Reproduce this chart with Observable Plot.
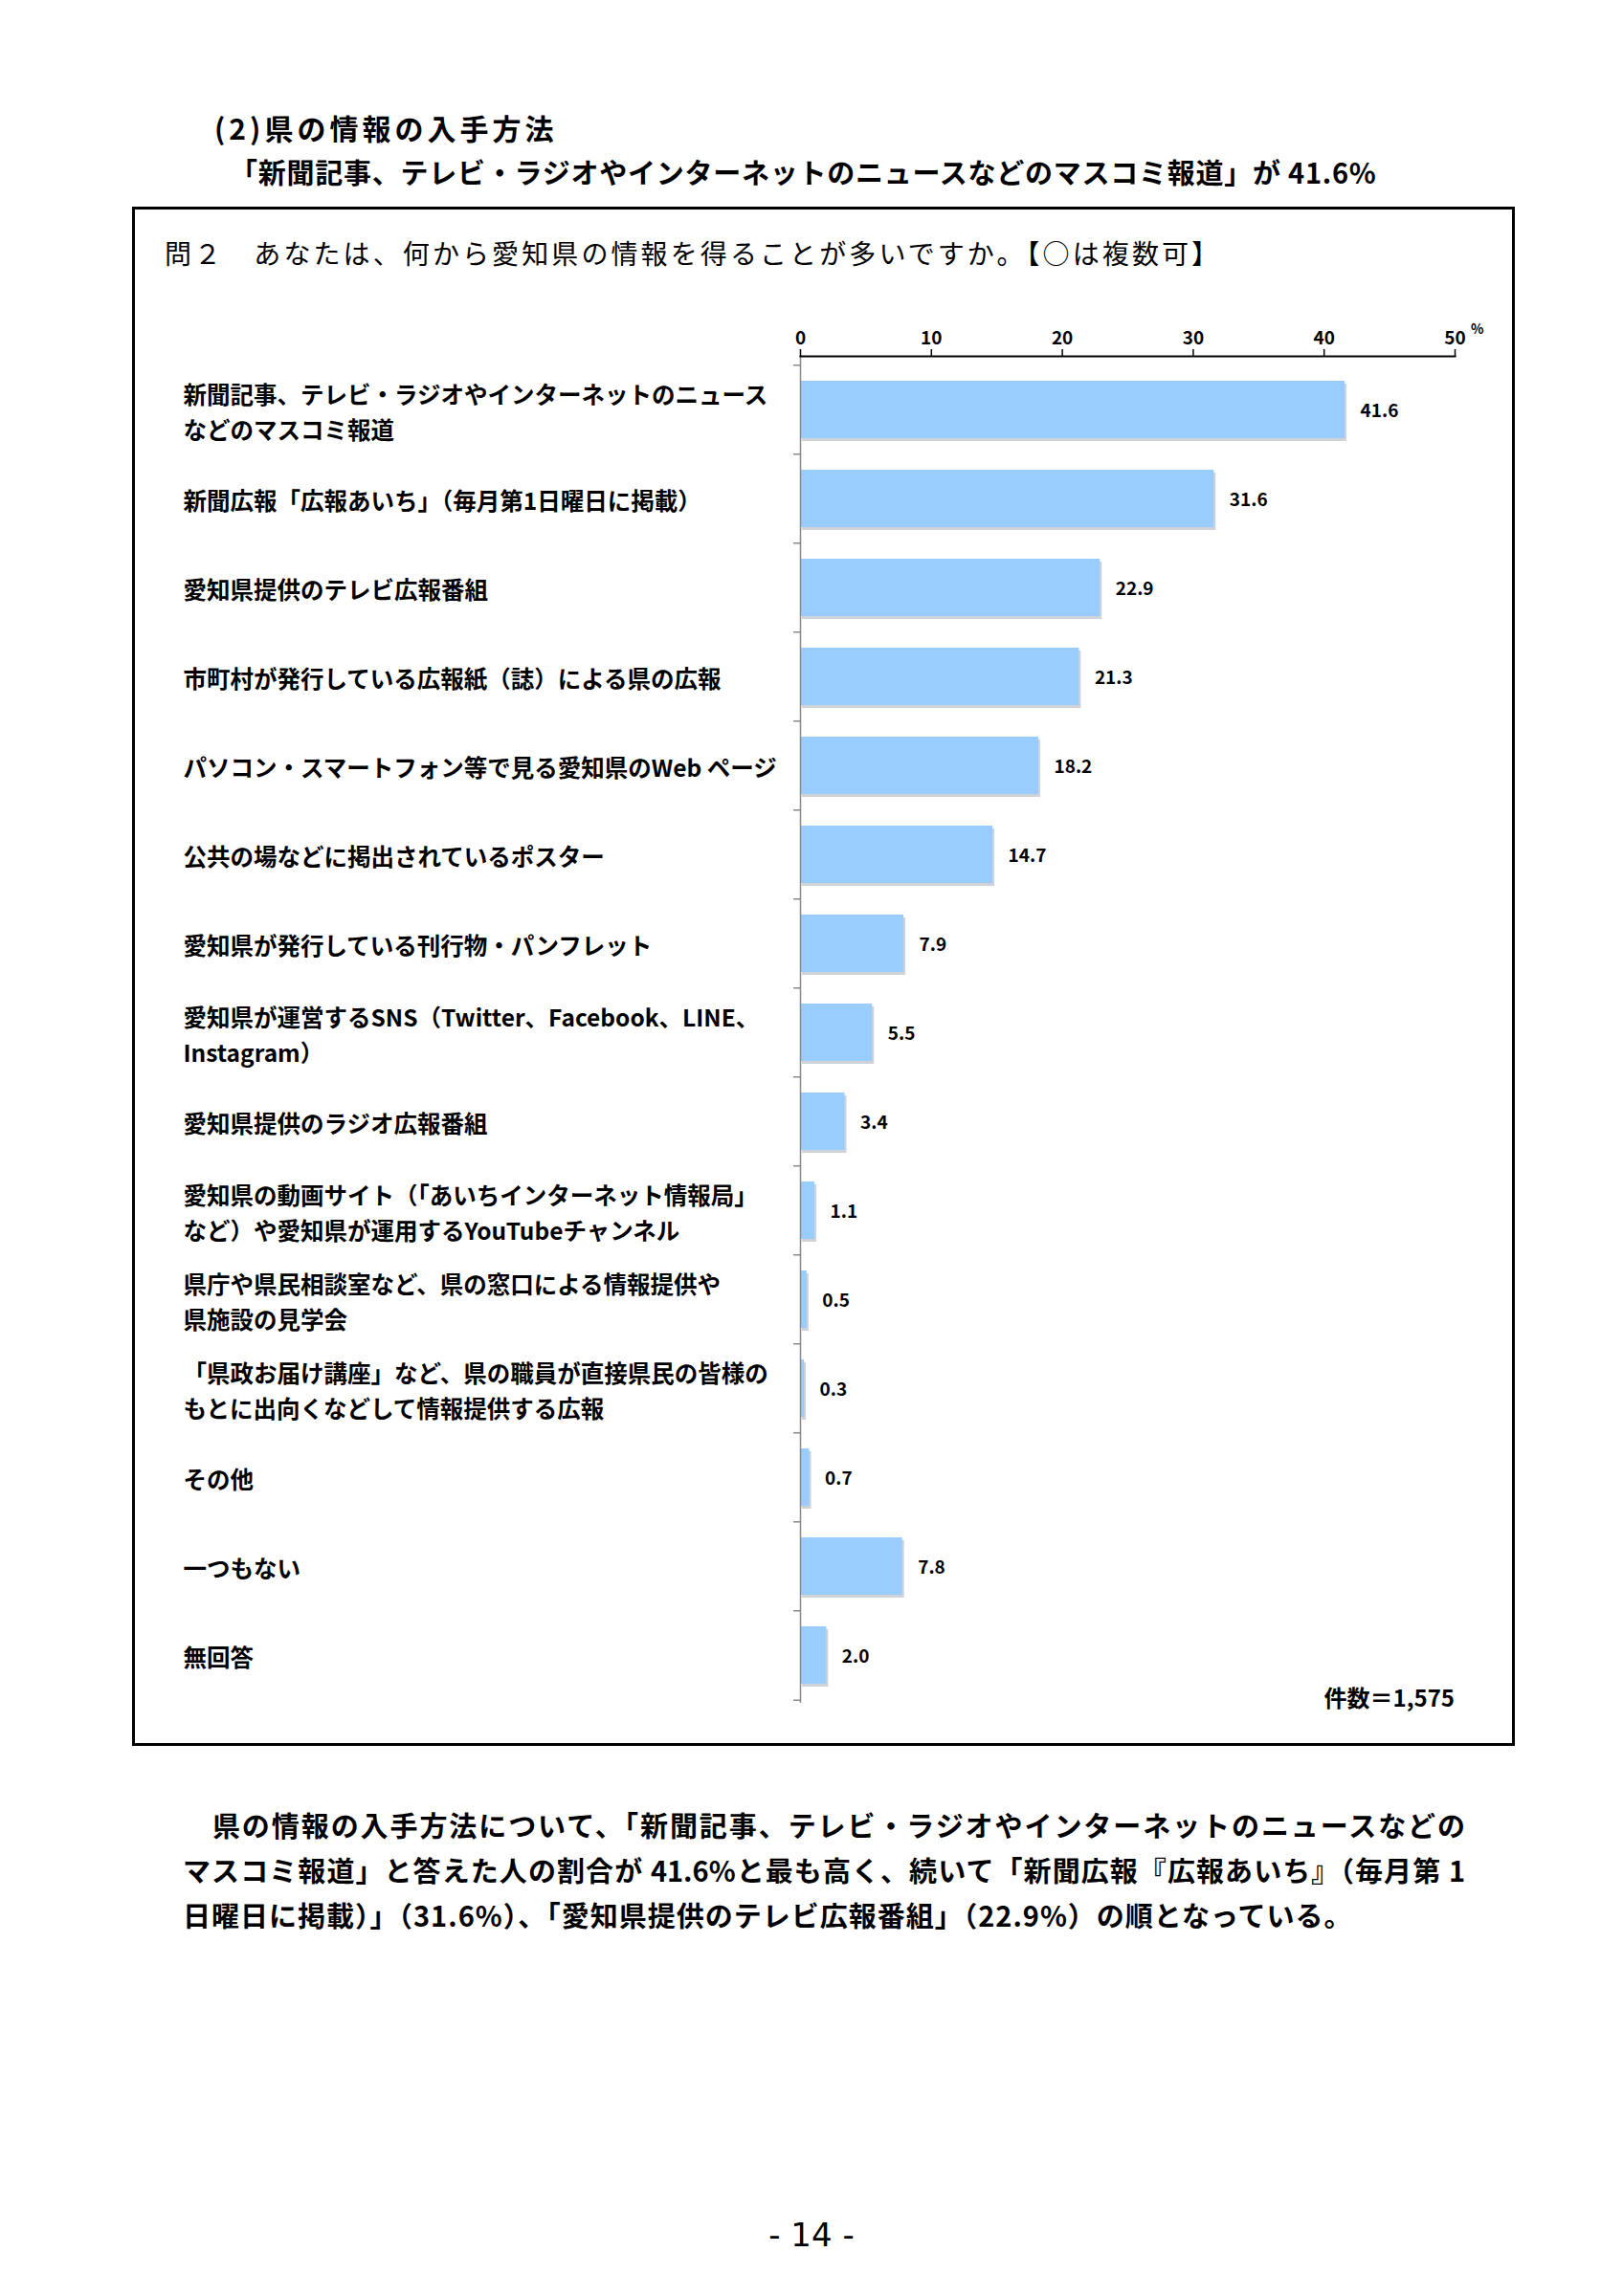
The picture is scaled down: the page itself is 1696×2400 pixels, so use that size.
<!DOCTYPE html>
<html lang="ja">
<head>
<meta charset="utf-8">
<script src="https://cdn.jsdelivr.net/npm/d3@7"></script>
<script src="https://cdn.jsdelivr.net/npm/@observablehq/plot@0.6"></script>
<style>
  html, body { margin: 0; padding: 0; background: #fff; }
  #page { position: relative; width: 1696px; height: 2400px; background: #fff; overflow: hidden;
          font-family: "Noto Sans CJK JP", "Noto Sans", sans-serif; color: #000; }
  .abs { position: absolute; white-space: nowrap; }
  #h1 { left: 224px; top: 111px; font-size: 30px; font-weight: 700; letter-spacing: 4px; }
  #h2 { left: 240px; top: 158px; font-size: 29px; font-weight: 700; letter-spacing: 0.75px; }
  #box { position: absolute; left: 138px; top: 216px; width: 1445px; height: 1609px; border: 3px solid #000; box-sizing: border-box; }
  #q { left: 172px; top: 244px; font-size: 28px; font-weight: 400; letter-spacing: 3.1px; }
  #chart { position: absolute; left: 138px; top: 300px; }
  #n { right: 176px; top: 1756px; font-size: 24px; font-weight: 700; }
  .para { position: absolute; left: 191px; width: 1340px; font-size: 29px; font-weight: 700; white-space: nowrap; }
  .just { text-align: justify; text-align-last: justify; }
  #p3 { letter-spacing: 1px; }
  #pg { left: 0; width: 1696px; text-align: center; top: 2316px; font-size: 34px; font-family: "DejaVu Sans", sans-serif; }
</style>
</head>
<body>
<div id="page">
  <div class="abs" id="h1"></div>
  <div class="abs" id="h2"></div>
  <div id="box"></div>
  <div class="abs" id="q"></div>
  <div id="chart"></div>
  <div class="abs" id="n"></div>
  <div class="para just" id="p1" style="top:1886px"></div>
  <div class="para just" id="p2" style="top:1933px"></div>
  <div class="para" id="p3" style="top:1980px"></div>
  <div class="abs" id="pg">- 14 -</div>
</div>
<script>
// ---- text ----
const heading1 = "(2)県の情報の入手方法";
const heading2 = "「新聞記事、テレビ・ラジオやインターネットのニュースなどのマスコミ報道」が 41.6%";
const question = "問２　あなたは、何から愛知県の情報を得ることが多いですか。【○は複数可】";
const caption = "件数＝1,575";
const unitLabel = "%";
const paragraphLines = [
  "　県の情報の入手方法について、「新聞記事、テレビ・ラジオやインターネットのニュースなどの",
  "マスコミ報道」と答えた人の割合が 41.6%と最も高く、続いて「新聞広報『広報あいち』（毎月第 1",
  "日曜日に掲載）」（31.6%）、「愛知県提供のテレビ広報番組」（22.9%）の順となっている。"
];

// ---- data ----
const categories = [
  "新聞記事、テレビ・ラジオやインターネットのニュース\nなどのマスコミ報道",
  "新聞広報「広報あいち」（毎月第1日曜日に掲載）",
  "愛知県提供のテレビ広報番組",
  "市町村が発行している広報紙（誌）による県の広報",
  "パソコン・スマートフォン等で見る愛知県のWeb ページ",
  "公共の場などに掲出されているポスター",
  "愛知県が発行している刊行物・パンフレット",
  "愛知県が運営するSNS（Twitter、Facebook、LINE、\nInstagram）",
  "愛知県提供のラジオ広報番組",
  "愛知県の動画サイト（「あいちインターネット情報局」\nなど）や愛知県が運用するYouTubeチャンネル",
  "県庁や県民相談室など、県の窓口による情報提供や\n県施設の見学会",
  "「県政お届け講座」など、県の職員が直接県民の皆様の\nもとに出向くなどして情報提供する広報",
  "その他",
  "一つもない",
  "無回答"
];
const values = [41.6, 31.6, 22.9, 21.3, 18.2, 14.7, 7.9, 5.5, 3.4, 1.1, 0.5, 0.3, 0.7, 7.8, 2.0];
const xTicks = [0, 10, 20, 30, 40, 50];

const rows = categories.map((c, i) => ({label: c, value: values[i]}));

document.getElementById("h1").textContent = heading1;
document.getElementById("h2").textContent = heading2;
document.getElementById("q").textContent = question;
document.getElementById("n").textContent = caption;
["p1", "p2", "p3"].forEach((id, i) => document.getElementById(id).textContent = paragraphLines[i]);

const W = 1445, H = 1500, mT = 72, mB = 20, mL = 698, mR = 63, insT = 6;
const step = (H - mB - mT - insT) / categories.length;
const font = '"Noto Sans CJK JP", "Noto Sans", sans-serif';

const chart = Plot.plot({
  width: W, height: H,
  marginTop: mT, marginBottom: mB, marginLeft: mL, marginRight: mR,
  style: {fontFamily: font, background: "transparent", color: "#000"},
  x: {domain: [0, 50], axis: null},
  y: {domain: categories, axis: null, paddingInner: 0.36, paddingOuter: 0.18, insetTop: insT},
  marks: [
    Plot.barX(rows, {y: "label", x: "value", fill: "#cfd3d8", dx: 2, dy: 3}),
    Plot.barX(rows, {y: "label", x: "value", fill: "#99ccff"}),
    Plot.text(rows, {y: "label", x: "value", text: d => d.value.toFixed(1), textAnchor: "start", dx: 16, dy: 1,
      fontSize: 19, fontWeight: 700, fill: "#000"}),
    Plot.text(rows, {y: "label", text: "label", frameAnchor: "left", textAnchor: "start", dx: -(mL - 53),
      fontSize: 24.5, fontWeight: 700, lineHeight: 1.5, fill: "#000"}),
    Plot.ruleX([0], {stroke: "#8a8a8a", strokeWidth: 1.5}),
    Plot.ruleY(categories, {y: d => d, x1: 0, x2: 0, insetLeft: -7, dy: -step / 2, stroke: "#8a8a8a", strokeWidth: 1.5}),
    Plot.ruleY(categories.slice(-1), {y: d => d, x1: 0, x2: 0, insetLeft: -7, dy: step / 2, stroke: "#8a8a8a", strokeWidth: 1.5}),
    Plot.frame({anchor: "top", stroke: "#000", strokeWidth: 2}),
    Plot.axisX({anchor: "top", ticks: xTicks, label: null, tickSize: 8, tickPadding: 5, fontSize: 19, fontWeight: 700, stroke: "#000", strokeWidth: 1.5}),
    Plot.text([unitLabel], {frameAnchor: "top-right", dx: 30, dy: -33, fontSize: 14, fontWeight: 700, fill: "#000"})
  ]
});
document.getElementById("chart").appendChild(chart);
</script>
</body>
</html>
